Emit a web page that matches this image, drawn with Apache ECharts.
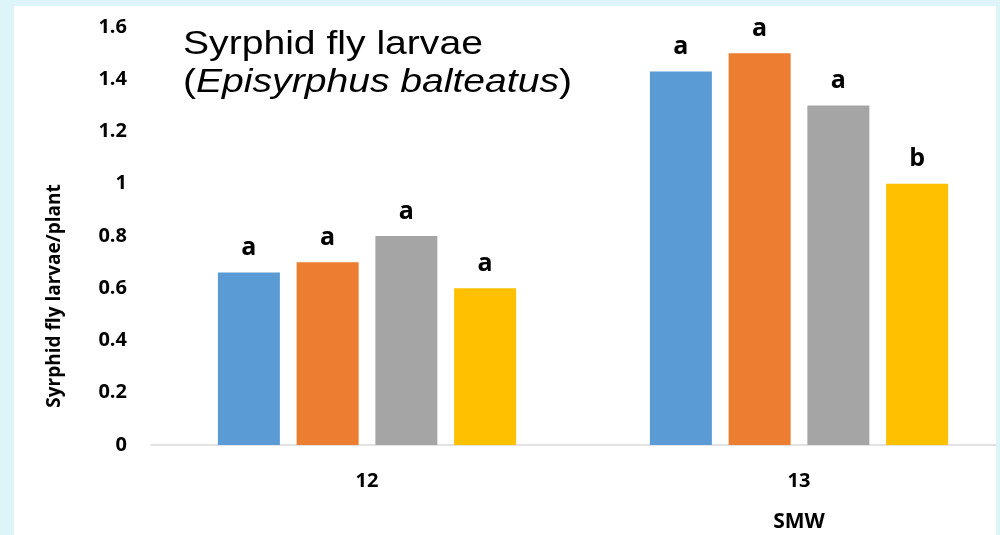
<!DOCTYPE html>
<html><head><meta charset="utf-8">
<script src="https://cdn.jsdelivr.net/npm/echarts@6/dist/echarts.min.js"></script>
<style>html,body{margin:0;padding:0;background:#ddf4f9;overflow:hidden;width:1000px;height:535px;}#c{width:1016px;height:535px;}</style>
</head><body><div id="c"></div>
<script>
var categories = ['12', '13'];
var seriesNames = ['T1', 'T2', 'T3', 'T4'];
var s1 = [0.66, 1.43];
var s2 = [0.70, 1.50];
var s3 = [0.80, 1.30];
var s4 = [0.60, 1.00];
var letters1 = ['a', 'a'];
var letters2 = ['a', 'a'];
var letters3 = ['a', 'a'];
var letters4 = ['a', 'b'];
var colors = ['#5B9BD5', '#ED7D31', '#A5A5A5', '#FFC000'];

var chart = echarts.init(document.getElementById('c'));
function mk(i, vals, letters) {
  return {
    name: seriesNames[i], type: 'bar', data: vals, barWidth: 62,
    barGap: '27%',
    itemStyle: { color: colors[i] },
    label: {
      show: true, position: 'top', distance: 12,
      formatter: function (p) { return letters[p.dataIndex]; },
      fontFamily: 'Open Sans', fontWeight: 'bold', fontSize: 25, color: '#000'
    }
  };
}
chart.setOption({
  backgroundColor: '#ddf4f9',
  animation: false,
  graphic: [
    { type: 'rect', z: -10, shape: { x: 14, y: 6, width: 982, height: 540 }, style: { fill: '#ffffff' } },
    { type: 'rect', z: 100, shape: { x: 996, y: 0, width: 30, height: 535 }, style: { fill: '#ddf4f9' } },
    { type: 'text', z: 10, x: 55, y: 296, rotation: Math.PI / 2,
      style: { text: 'Syrphid fly larvae/plant', font: 'bold 19px "Open Sans", sans-serif', fill: '#000', align: 'center', verticalAlign: 'middle' } },
    { type: 'text', z: 10, x: 799, y: 522,
      style: { text: 'SMW', font: 'bold 21px "Open Sans", sans-serif', fill: '#000', align: 'center', verticalAlign: 'middle' } },
    { type: 'text', z: 10, x: 183, y: 26, scaleX: 1.15,
      style: { rich: { n: { fontSize: 34, fontFamily: 'Liberation Sans', lineHeight: 38, fill: '#000' }, i: { fontSize: 34, fontFamily: 'Liberation Sans', fontStyle: 'italic', lineHeight: 38, fill: '#000' } },
        text: '{n|Syrphid fly larvae}\n{n|(}{i|Episyrphus balteatus}{n|)}' } }
  ],
  grid: { left: 151, right: 1, top: 27, bottom: 90, containLabel: false },
  xAxis: {
    type: 'category', data: categories,
    axisLine: { lineStyle: { color: '#d9d9d9', width: 1.5 } },
    axisTick: { show: false },
    axisLabel: { fontFamily: 'Open Sans', fontWeight: 'bold', fontSize: 20, color: '#000', margin: 26 }
  },
  yAxis: {
    type: 'value', min: 0, max: 1.6, interval: 0.2,
    splitLine: { show: false }, axisLine: { show: false }, axisTick: { show: false },
    axisLabel: { fontFamily: 'Open Sans', fontWeight: 'bold', fontSize: 20, color: '#000', margin: 24,
      formatter: function (v) { return String(Math.round(v * 10) / 10); } }
  },
  series: [mk(0, s1, letters1), mk(1, s2, letters2), mk(2, s3, letters3), mk(3, s4, letters4)]
});
</script></body></html>
